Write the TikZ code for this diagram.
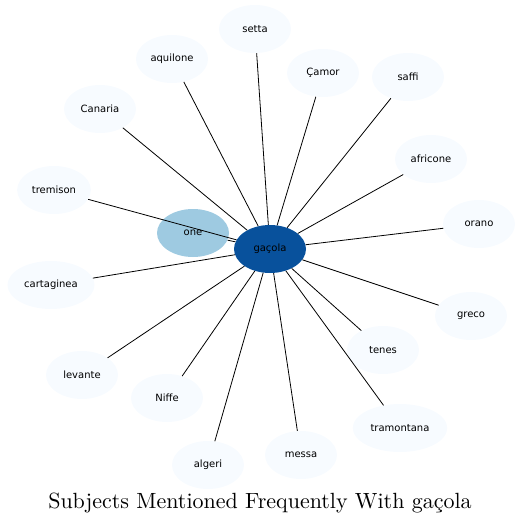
\documentclass[tikz,border=0pt]{standalone}
\usepackage{fontspec}
\newfontfamily\dejavu{DejaVu Sans}
\newfontfamily\titlefont{lmroman10-regular}[Extension=.otf]
\usepackage{xcolor}
\usetikzlibrary{shapes.geometric}
\definecolor{hubblue}{HTML}{08519C}
\definecolor{oneblue}{HTML}{9ECAE1}
\definecolor{leaffill}{HTML}{F7FBFF}

\begin{document}
\begin{tikzpicture}[x=1pt, y=-1pt,
  leaf/.style={ellipse, fill=leaffill, minimum width=72pt, minimum height=48pt, inner xsep=4pt, font=\dejavu\fontsize{10}{12}\selectfont},
  hub/.style={leaf, fill=hubblue},
  link/.style={black, line width=0.8pt}
]
\useasboundingbox (0,0) rectangle (521,525);
% center and its neighbours
\node[hub] (gacola) at (270,249) {gaçola};
\node[leaf, fill=oneblue] (one) at (193,233) {one};
\node[leaf] (setta) at (255,29) {setta};
\node[leaf] (aquilone) at (172,59) {aquilone};
\node[leaf] (camor) at (323,73) {Çamor};
\node[leaf] (saffi) at (408,77) {saffi};
\node[leaf] (canaria) at (100,109) {Canaria};
\node[leaf] (africone) at (431,159) {africone};
\node[leaf] (tremison) at (54,190) {tremison};
\node[leaf] (orano) at (479,224) {orano};
\node[leaf] (cartaginea) at (51,285) {cartaginea};
\node[leaf] (greco) at (471,316) {greco};
\node[leaf] (tenes) at (383,350) {tenes};
\node[leaf] (levante) at (82,375) {levante};
\node[leaf] (niffe) at (167,398) {Niffe};
\node[leaf] (tramontana) at (400,428) {tramontana};
\node[leaf] (messa) at (301,455) {messa};
\node[leaf] (algeri) at (208,465) {algeri};
\foreach \n in {one,setta,aquilone,camor,saffi,canaria,africone,tremison,orano,cartaginea,greco,tenes,levante,niffe,tramontana,messa,algeri}
  \draw[link] (gacola) -- (\n);
% title
\node[font=\titlefont\fontsize{22}{26}\selectfont] (title) at (260,503) {Subjects Mentioned Frequently With gaçola};
\end{tikzpicture}
\end{document}
